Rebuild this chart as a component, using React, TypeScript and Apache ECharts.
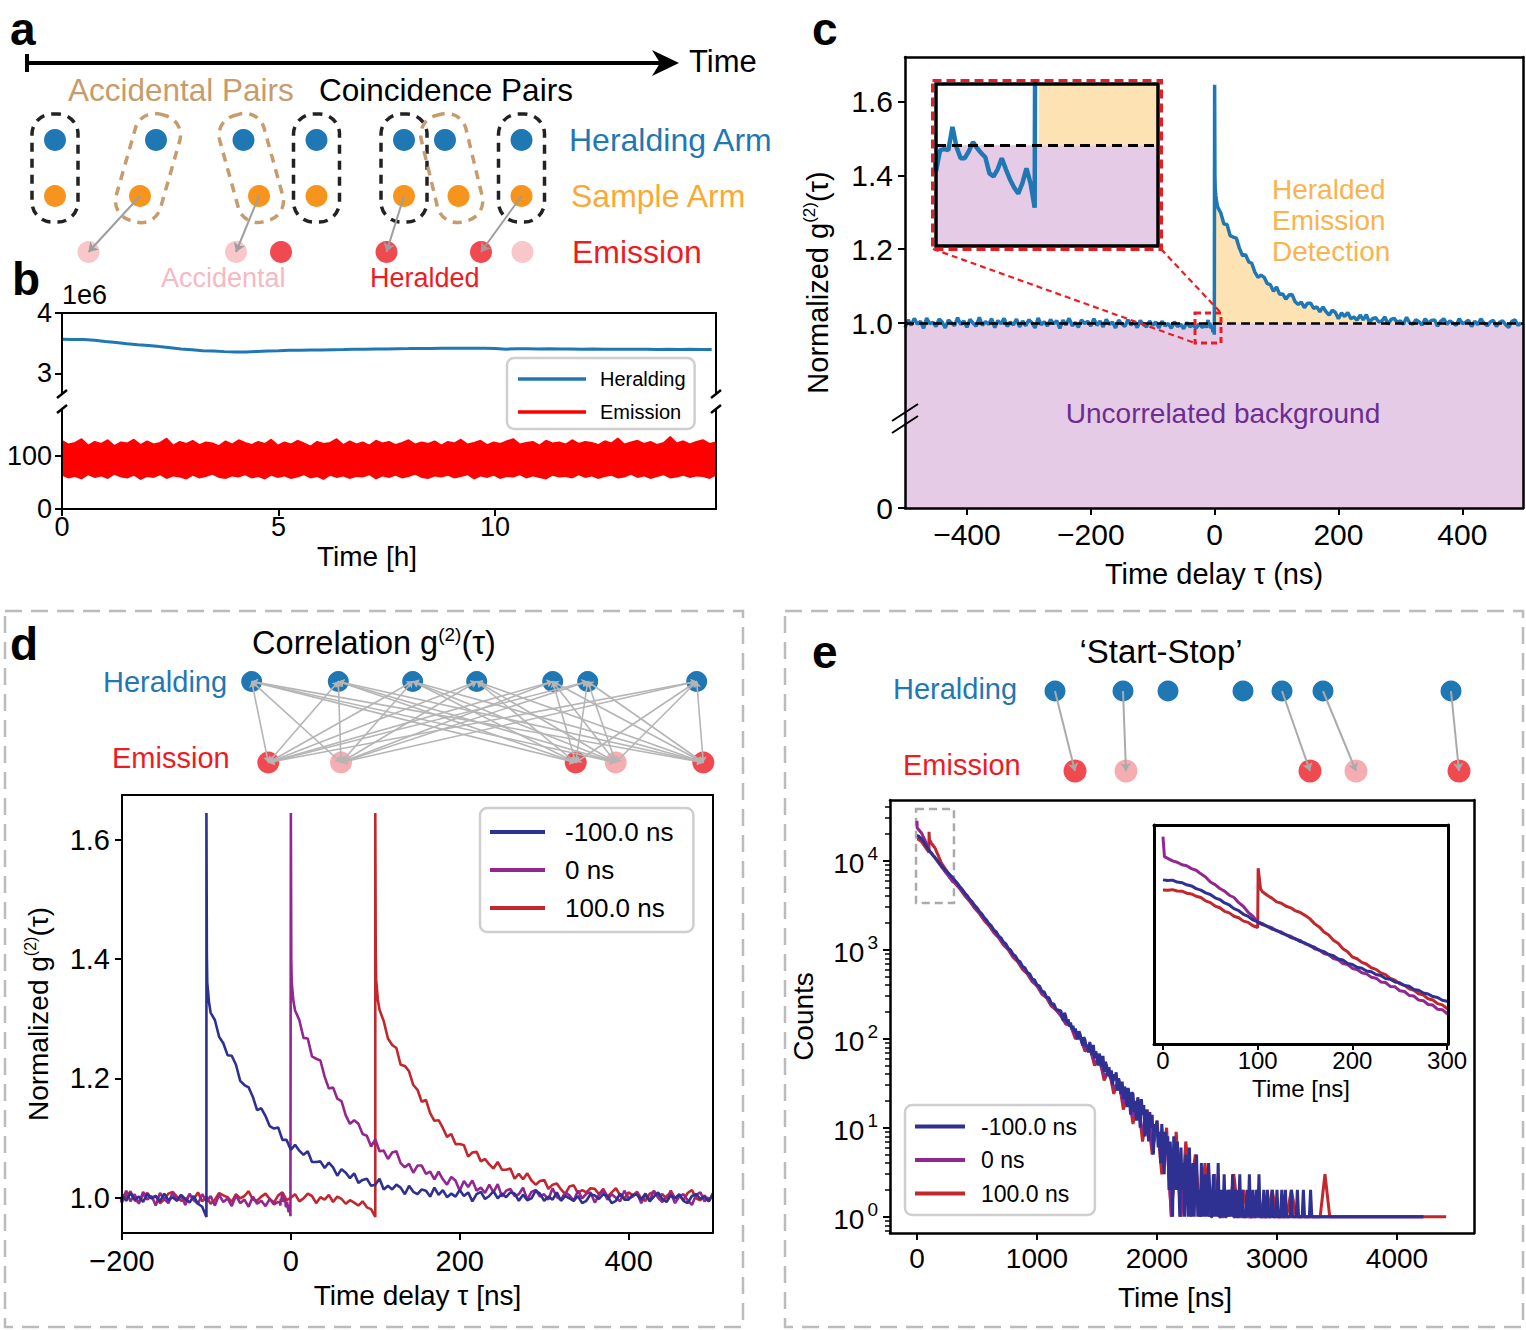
import React, { useEffect, useRef } from "react";
import * as echarts from "echarts";

// ---------------- Panel a: schematic events (arbitrary time units) ----------------
const aHeraldingTimes = [2.8, 12.9, 21.65, 28.95, 37.7, 41.8, 49.45];
const aSampleTimes = [2.8, 11.3, 23.2, 28.95, 37.7, 43.15, 49.45];
const aPairKinds = ["coincidence", "accidental", "accidental", "coincidence", "coincidence", "accidental", "coincidence"];
const aEmissionTimes = [6.15, 20.9, 25.4, 35.95, 45.4, 49.55];
const aEmissionKinds = ["accidental", "accidental", "heralded", "heralded", "heralded", "accidental"];
const aArrows = [[1, 0], [2, 1], [4, 3], [6, 4]]; // sample index -> emission index

// ---------------- Panel b: count rates vs time ----------------
const bTimeTicks = [0, 5, 10];
const bHeraldingTicks = [3, 4];
const bEmissionTicks = [0, 100];
const bHeraldingStep = 0.25; // h
// heralding rate in units of 1e6 counts
const bHeralding = [
  3.566, 3.562, 3.561, 3.549, 3.529, 3.511, 3.492, 3.474, 3.463, 3.444,
  3.426, 3.404, 3.391, 3.377, 3.371, 3.361, 3.353, 3.356, 3.363, 3.373,
  3.377, 3.382, 3.383, 3.389, 3.389, 3.393, 3.395, 3.4, 3.4, 3.405,
  3.406, 3.41, 3.411, 3.414, 3.414, 3.417, 3.417, 3.418, 3.416, 3.415,
  3.412, 3.402, 3.409, 3.41, 3.406, 3.407, 3.403, 3.404, 3.4, 3.403,
  3.399, 3.402, 3.4, 3.399, 3.401, 3.398, 3.399, 3.397, 3.399, 3.396, 3.397,
];
const bEmissionBin = 0.151; // h
const bEmissionHigh = [
  128, 121, 124, 131, 119, 126, 122, 129, 118, 125, 123, 130, 120, 127, 121, 124, 132, 119, 126, 122,
  128, 120, 125, 123, 118, 127, 121, 129, 124, 120, 126, 122, 130, 119, 125, 121, 128, 123, 117, 126,
  122, 124, 131, 120, 127, 121, 125, 119, 128, 123, 126, 120, 124, 129, 121, 125, 122, 127, 119, 126,
  123, 130, 121, 124, 128, 120, 125, 122, 127, 131, 121, 124, 126, 119, 128, 123, 125, 121, 129, 122,
  126, 124, 120, 127, 123, 132, 121, 125, 128, 122, 126, 120, 124, 135, 123, 127, 121, 126, 129, 122, 125,
];
const bEmissionLow = [
  62, 57, 60, 55, 63, 58, 61, 56, 64, 59, 57, 62, 54, 60, 58, 63, 56, 61, 59, 55,
  62, 57, 60, 64, 58, 56, 61, 59, 63, 57, 60, 55, 62, 58, 61, 56, 59, 63, 57, 60,
  54, 62, 58, 61, 56, 60, 59, 63, 55, 61, 58, 62, 57, 60, 64, 58, 56, 61, 59, 62,
  57, 60, 63, 55, 61, 58, 62, 56, 60, 59, 63, 57, 61, 58, 55, 62, 59, 60, 57, 63,
  58, 61, 56, 60, 62, 57, 59, 64, 58, 61, 56, 60, 63, 57, 59, 62, 58, 61, 60, 56, 62,
];

// ---------------- Panel c: normalized g2 (0 ns delay) ----------------
const cTauTicks = [-400, -200, 0, 200, 400];
const cGTicks = [0.5, 1.0, 1.2, 1.4, 1.6]; // 0.5 is the broken-axis floor, labelled "0"
const cBaselineStart = -500;
const cBaselineStep = 5;
const cBaseline = [
  0.988, 1.009, 0.994, 1.013, 0.997, 1.005, 0.986, 1.014, 0.999, 1.002,
  0.991, 1.011, 1.003, 0.987, 1.008, 1.001, 0.993, 1.015, 0.996, 1.006,
  0.989, 1.01, 1.0, 0.992, 1.016, 0.994, 1.004, 0.997, 1.012, 0.988,
  1.007, 0.998, 1.013, 0.991, 1.003, 0.995, 1.011, 0.99, 1.006, 0.993,
  1.009, 1.001, 0.987, 1.014, 0.996, 1.004, 0.992, 1.01, 0.998, 1.007,
  0.986, 1.008, 0.995, 1.013, 0.993, 1.002, 0.989, 1.009, 0.999, 1.005,
  0.992, 1.012, 0.994, 1.006, 0.99, 1.01, 0.997, 1.003, 0.987, 1.008,
  0.998, 0.991, 1.009, 0.995, 1.004, 0.988, 1.007, 0.996, 0.99, 1.006,
  0.994, 1.003, 0.987, 1.005, 0.993, 0.999, 0.986, 1.004, 0.991, 0.997,
  0.985, 1.002, 0.99, 0.995, 0.986, 0.998, 0.989, 0.993,
];
const cNearStart = -13;
const cNearStep = 0.5;
const cNearZero = [
  0.992, 0.987, 0.9975, 0.998, 0.9975, 1.009, 0.999, 0.9935, 0.9935, 0.997, 1.0015, 0.9985, 0.996,
  0.994, 0.986, 0.9845, 0.988, 0.9935, 0.988, 0.983, 0.979, 0.976, 0.981, 0.9885, 0.981, 0.969,
];
const decayHeadOffsets = [0, 0.5, 1, 2, 3, 5];
const decayTailStart = 10;
const decayTailStep = 5;
const cDecayHead = [1.645, 1.4, 1.362, 1.345, 1.33, 1.314];
const cDecayTail = [
  1.298, 1.268, 1.267, 1.237, 1.233, 1.23, 1.203, 1.183, 1.185, 1.166,
  1.162, 1.138, 1.124, 1.13, 1.124, 1.107, 1.104, 1.086, 1.098, 1.078,
  1.079, 1.065, 1.076, 1.078, 1.058, 1.051, 1.057, 1.042, 1.054, 1.054,
  1.04, 1.044, 1.031, 1.044, 1.031, 1.022, 1.035, 1.029, 1.012, 1.028,
  1.018, 1.029, 1.012, 1.017, 1.008, 1.022, 1.009, 1.023, 1.002, 1.012,
  1.015, 1.003, 1.006, 1.017, 0.997, 1.01, 1.013, 1.002, 1.006, 0.997,
  1.016, 1.001, 0.997, 1.009, 1.004, 0.995, 1.012, 0.999, 1.007, 1.009,
  0.992, 1.005, 1.012, 0.997, 1.006, 1.0, 0.994, 1.012, 0.999, 1.002,
  1.008, 0.991, 1.005, 0.996, 1.012, 1.0, 0.993, 1.003, 1.008, 0.991,
  1.002, 1.006, 0.996, 0.988, 1.005, 1.009, 0.994, 1.001,
];
const cExcessUntil = 300; // ns, extent of the shaded heralded-emission area

// ---------------- Panel d: g2 for three delays ----------------
const dTauTicks = [-200, 0, 200, 400];
const dGTicks = [1.0, 1.2, 1.4, 1.6];
const dBlueDelay = -100;
const dBluePre = [1.004, 0.995, 1.008, 0.997, 1.002, 0.993, 1.006, 0.999, 1.003, 0.994, 1.007, 0.996, 1.001, 0.995, 1.005, 0.998, 0.992, 1.003, 0.99, 0.985, 0.968];
const dBlueHead = [1.645, 1.41, 1.36, 1.345, 1.328, 1.31];
const dBlueTail = [
  1.298, 1.27, 1.259, 1.239, 1.238, 1.223, 1.196, 1.189, 1.185, 1.169,
  1.147, 1.15, 1.137, 1.12, 1.116, 1.118, 1.097, 1.097, 1.08, 1.089,
  1.079, 1.072, 1.078, 1.06, 1.06, 1.061, 1.05, 1.059, 1.051, 1.037,
  1.048, 1.042, 1.033, 1.041, 1.025, 1.03, 1.032, 1.02, 1.022, 1.032,
  1.014, 1.02, 1.014, 1.022, 1.017, 1.006, 1.02, 1.01, 1.006, 1.014,
  1.012, 1.002, 1.017, 1.005, 1.013, 1.001, 1.007, 1.002, 1.013, 1.003,
  1.009, 0.994, 1.006, 1.01, 0.998, 1.003, 1.011, 0.999, 1.007, 1.001,
  1.009, 1.007, 0.995, 1.005, 0.996, 0.999, 1.012, 1.007, 0.995, 1.002,
  0.997, 1.009, 0.995, 1.003, 0.999, 0.995, 1.003, 0.991, 0.995, 1.006,
  1.004, 0.998, 1.006, 1.003, 0.991, 0.995, 1.007, 0.997, 0.997, 1.005,
  1.005, 0.997, 1.007, 0.994, 1.002, 1.009, 0.998, 0.993, 1.004, 0.999,
  1.006, 0.995, 0.991, 1.003, 1.006, 0.998, 1.002, 0.994, 1.008,
];
const dRedDelay = 100;
const dRedPre = [
  1.006, 1.001, 1.011, 0.996, 0.993, 1.004, 1.008, 0.999, 1.003, 0.991,
  0.997, 1.007, 1.01, 1.002, 0.995, 0.996, 1.005, 0.998, 1.009, 0.994,
  1.002, 0.99, 0.997, 1.008, 1.004, 1.001, 0.993, 1.006, 0.999, 1.003,
  1.011, 0.997, 0.995, 1.002, 1.007, 0.998, 0.992, 1.004, 1.009, 0.996,
  1.0, 1.006, 0.994, 0.999, 1.007, 1.003, 0.991, 1.001, 0.997, 1.005,
  0.993, 1.002, 0.998, 0.99, 0.996, 0.992, 0.987, 0.994, 0.984, 0.981, 0.968,
];
const dRedHead = [1.645, 1.42, 1.365, 1.35, 1.332, 1.315];
const dRedTail = [
  1.296, 1.267, 1.256, 1.251, 1.223, 1.221, 1.212, 1.189, 1.181, 1.161,
  1.164, 1.142, 1.129, 1.13, 1.117, 1.102, 1.107, 1.09, 1.09, 1.088,
  1.069, 1.076, 1.077, 1.061, 1.065, 1.056, 1.049, 1.06, 1.047, 1.047,
  1.049, 1.032, 1.04, 1.031, 1.041, 1.029, 1.022, 1.028, 1.03, 1.015,
  1.022, 1.024, 1.014, 1.006, 1.019, 1.021, 1.008, 1.013, 1.009, 1.016,
  1.015, 1.006, 1.015, 1.002, 1.009, 1.016, 1.004, 0.999, 1.009, 1.004,
  1.01, 0.999, 0.995, 1.007, 1.01, 1.002, 1.006, 0.998, 1.012, 0.999,
  1.004, 0.996, 1.008, 1.013, 0.999, 0.996, 1.004, 0.994, 1.006,
];
const dHeraldingTimes = [1.17, 9.83, 17.27, 23.67, 31.27, 34.77, 45.67];
const dEmissionTimes = [2.83, 10.1, 33.57, 37.57, 46.33];
const dEmissionKinds = ["heralded", "accidental", "heralded", "accidental", "heralded"];

// ---------------- Panel e: start-stop histograms ----------------
const eTimeTicks = [0, 1000, 2000, 3000, 4000];
const eCountTicks = [1, 10, 100, 1000, 10000];
const eInsetTicks = [0, 100, 200, 300];
const eHeadStep = 5;
const eBlueHead = [
  19050, 18930, 19010, 18690, 18580, 18240, 18050, 17620, 17390, 16960, 16720, 16230, 15980, 15500, 15230, 14740,
  14470, 14010, 13760, 13320, 13090, 12780, 12600, 12290, 12140, 11850, 11680, 11390, 11260, 10980, 10850, 10580,
  10440, 10170, 10040, 9790, 9680, 9400, 9310, 9040, 8950, 8730, 8660, 8450, 8390, 8180, 8110, 7900, 7850, 7650,
  7600, 7420, 7370, 7160, 7110, 6940, 6880, 6720, 6670, 6500, 6450,
];
const eBlueMidStart = 320;
const eBlueMidStep = 20;
const eBlueMid = [
  5930, 5500, 5050, 4720, 4310, 4040, 3690, 3460, 3150, 2950, 2690, 2530, 2300, 2160, 1960, 1850, 1670, 1590, 1430, 1360,
  1220, 1170, 1040, 995, 890, 852, 760, 730, 648, 625, 552, 536, 470, 458, 401, 393, 342, 335, 292, 288, 248, 246, 212, 210,
];
const eBlueTailStart = 1200;
const eBlueTailStep = 10;
const eBlueTail = [
  205, 172, 160, 196, 178, 150, 165, 137, 152, 128, 140, 118, 130, 112, 98, 121, 112, 95, 84, 104,
  97, 80, 86, 70, 92, 78, 66, 85, 60, 72, 64, 50, 68, 58, 48, 64, 42, 55, 50, 38,
  48, 36, 44, 30, 40, 34, 42, 26, 36, 31, 24, 33, 21, 29, 26, 17, 28, 22, 14, 25,
  24, 15, 20, 12, 22, 17, 10, 21, 14, 18, 8, 16, 12, 7, 15, 10, 14, 5, 11, 9,
  12, 6, 9, 4, 11, 7, 3, 9, 5, 8, 2, 7, 4, 1, 8, 5, 2, 7, 3, 1,
  6, 2, 4, 1, 5, 3, 1, 6, 2, 1, 4, 1, 3, 5, 1, 2, 1, 4, 1, 3,
  1, 3, 1, 4, 2, 1, 1, 3, 1, 2, 1, 4, 1, 1, 2, 1, 3, 1, 1, 2,
  1, 2, 1, 3, 1, 1, 2, 1, 1, 3, 1, 2, 1, 1, 1, 2, 1, 3, 1, 1,
  2, 1, 1, 2, 1, 3, 1, 1, 1, 2, 1, 1, 2, 1, 1, 1, 2, 1, 1, 1,
  2, 1, 1, 1, 2, 1, 1, 2, 1, 1, 1, 1, 2, 1, 1, 1, 1, 2, 1, 1,
  1, 1, 2, 1, 1, 1, 1, 1, 2, 1, 1, 1, 1, 1, 1, 1, 1, 1, 1, 1,
  1,
];
const eBlueEnd = [4220, 1];

const ePurpleStartTimes = [0, 1.5];
const ePurpleStart = [28050, 23440];
const ePurpleHeadStart = 5;
const ePurpleHead = [
  23080, 22580, 22300, 21800, 21600, 21060, 20770, 20110, 19560, 18690, 18260, 17640, 17240, 16610, 16280, 15540,
  15020, 14260, 13770, 13060, 12900, 12570, 12440, 12080, 11960, 11640, 11530, 11200, 11090, 10760, 10640, 10300,
  10190, 9860, 9750, 9430, 9340, 9030, 8940, 8640, 8560, 8310, 8230, 7990, 7920, 7660, 7620, 7360, 7330, 7080,
  7030, 6790, 6750, 6510, 6480, 6260, 6230, 6000, 5980, 5770,
];
const eSparseMidStart = 320;
const eSparseStep = 40;
const ePurpleMid = [5620, 4890, 4100, 3580, 2990, 2630, 2180, 1920, 1590, 1400, 1160, 1030, 845, 750, 615, 548, 450, 400, 328, 292, 238, 213];
const eSparseTailStart = 1200;
const ePurpleTail = [182, 148, 140, 104, 103, 76, 78, 55, 57, 38, 42, 28, 32, 19, 24, 13, 18, 9, 13, 6, 10, 4, 8, 1, 6, 1, 4, 1, 3, 1, 2, 1, 2, 1, 1, 2, 1, 1];
const ePurpleEnd = [4220, 1];

const eRedPre = [17420, 17380, 17460, 17250, 17230, 16920, 16800, 16460, 16280, 15790, 15550, 15080, 14850, 14390, 14190, 13770, 13580, 13180, 13030, 12650, 12450];
const eRedSpikeTimes = [100.5, 103];
const eRedSpike = [21130, 17600];
const eRedPostStart = 105;
const eRedPost = [
  17140, 16620, 16190, 15650, 15470, 15050, 14840, 14440, 14240, 13880, 13480, 12890, 12520, 11970, 11640, 11120,
  10810, 10300, 10030, 9570, 9420, 9120, 8970, 8690, 8570, 8300, 8170, 7900, 7780, 7530, 7430, 7200, 7110, 6890,
  6810, 6590, 6520, 6310, 6240, 6040,
];
const eRedMid = [5510, 4770, 4020, 3490, 2920, 2550, 2130, 1860, 1550, 1365, 1130, 1000, 825, 730, 600, 535, 438, 392, 318, 288, 232, 210];
const eRedTail = [
  180, 146, 142, 100, 106, 72, 80, 50, 60, 34, 45, 24, 35, 16, 27, 11, 21, 7, 16, 5,
  12, 3, 10, 1, 9, 1, 7, 2, 5, 1, 4, 1, 3, 1, 2, 1, 3, 1, 2, 1,
  1, 2, 1, 1, 2, 1, 1, 1, 2, 1, 1, 1, 1, 1, 1, 3, 1,
];
const eRedEnd = [4410, 1];
const eZoomBox = [[-8, 38000], [308, 3350]];

const eHeraldingTimes = [1.5, 8.3, 12.8, 20.3, 24.2, 28.3, 41.1];
const eEmissionTimes = [3.5, 8.6, 27.0, 31.6, 41.9];
const eEmissionKinds = ["heralded", "accidental", "heralded", "accidental", "heralded"];
const eStartStopPairs = [[0, 0], [1, 1], [4, 2], [5, 3], [6, 4]];

// ---------------- styles ----------------
const FONT = "'Liberation Sans', Arial, Helvetica, sans-serif";
const BLACK = "#000000";
const HERALD_BLUE = "#1f77b4";
const SAMPLE_ORANGE = "#f7941d";
const SAMPLE_TEXT = "#f9a935";
const EM_RED = "#ed1c24";
const EM_PINK_A = "#f8b8bd";
const EM_PINK = "#f4999d";
const TAN = "#c69c6d";
const PINK_TEXT = "#f7b8c1";
const PURPLE_FILL = "#e6cbe6";
const ORANGE_FILL = "#fde3b4";
const ORANGE_TEXT = "#f9b34f";
const PURPLE_TEXT = "#6c2d91";
const D_BLUE = "#2e3192";
const D_PURPLE = "#93278f";
const D_RED = "#c1272d";
const GRAY_LINE = "#b5b5b5";

// ---------------- helpers ----------------
const seq = (vals: number[], start: number, step: number) => vals.map((v, i) => [start + i * step, v]);
const seqBack = (vals: number[], end: number, step: number) => vals.map((v, i) => [end - (vals.length - 1 - i) * step, v]);
const pairs = (ts: number[], vals: number[]) => vals.map((v, i) => [ts[i], v]);
const decay = (t0: number, head: number[], tail: number[]) => [
  ...head.map((v, i) => [t0 + decayHeadOffsets[i], v]),
  ...tail.map((v, i) => [t0 + decayTailStart + i * decayTailStep, v]),
];
const minus = (v: number) => (v < 0 ? "\u2212" + Math.abs(v) : String(v));

const cTrace = [...seq(cBaseline, cBaselineStart, cBaselineStep), ...seq(cNearZero, cNearStart, cNearStep), ...decay(0, cDecayHead, cDecayTail)];
const cExcess = decay(0, cDecayHead, cDecayTail).filter((p) => p[0] <= cExcessUntil);
const dBlue = [...seqBack(dBluePre, dBlueDelay, 5), ...decay(dBlueDelay, dBlueHead, dBlueTail)];
const dRed = [...seqBack(dRedPre, dRedDelay, 5), ...decay(dRedDelay, dRedHead, dRedTail)];
const eBlue = [...seq(eBlueHead, 0, eHeadStep), ...seq(eBlueMid, eBlueMidStart, eBlueMidStep), ...seq(eBlueTail, eBlueTailStart, eBlueTailStep), eBlueEnd];
const ePurple = [...pairs(ePurpleStartTimes, ePurpleStart), ...seq(ePurpleHead, ePurpleHeadStart, eHeadStep), ...seq(ePurpleMid, eSparseMidStart, eSparseStep), ...seq(ePurpleTail, eSparseTailStart, eSparseStep), ePurpleEnd];
const eRed = [...seq(eRedPre, 0, eHeadStep), ...pairs(eRedSpikeTimes, eRedSpike), ...seq(eRedPost, eRedPostStart, eHeadStep), ...seq(eRedMid, eSparseMidStart, eSparseStep), ...seq(eRedTail, eSparseTailStart, eSparseStep), eRedEnd];
const bHeraldingData = seq(bHeralding, 0, bHeraldingStep);
const nEm = Math.min(bEmissionHigh.length, bEmissionLow.length);
const bEmHighData = seq(bEmissionHigh.slice(0, nEm), 0, bEmissionBin);
const bEmLowData = seq(bEmissionLow.slice(0, nEm), 0, bEmissionBin);

const B_TMAX = 15.1;

const axLine = (w = 2) => ({ show: true, onZero: false, lineStyle: { color: BLACK, width: w } });
const axTicks = (vals: number[], len = 7, w = 2) => ({ show: true, inside: false, length: len, customValues: vals, lineStyle: { color: BLACK, width: w } });
const axLabels = (vals: number[], size: number, margin: number, formatter?: any, rich?: any) => {
  const o: any = { show: true, customValues: vals, fontSize: size, fontFamily: FONT, color: BLACK, margin, formatter: formatter || ((v: number) => String(v)) };
  if (rich) o.rich = rich;
  return o;
};
const frame = (gridIndex: number, position: string, w = 2) => ({
  type: "value", gridIndex, position, min: 0, max: 1, z: 10,
  axisLine: axLine(w), axisTick: { show: false }, axisLabel: { show: false }, splitLine: { show: false },
});
const hidden = (gridIndex: number, min: number, max: number) => ({ type: "value", gridIndex, min, max, show: false, splitLine: { show: false } });
const supRich = (size: number) => ({ sup: { fontSize: size, lineHeight: size + 1, verticalAlign: "top", fontFamily: FONT, color: BLACK } });
const nameStyle = (size: number, extra: any = {}) => ({ fontSize: size, fontFamily: FONT, color: BLACK, lineHeight: size + 4, ...extra });

const T = (text: string, x: number, y: number, size: number, color: string, opts: any = {}) => ({
  type: "text", x, y, z: 100, silent: true,
  style: {
    text, fill: color, fontSize: size, fontFamily: FONT, fontWeight: opts.bold ? "bold" : "normal",
    align: opts.align || "left", textAlign: opts.align || "left", verticalAlign: "middle", textVerticalAlign: "middle",
    lineHeight: opts.rich ? size + 4 : undefined, rich: opts.rich,
  },
});
const L = (x1: number, y1: number, x2: number, y2: number, color: string, w: number, dash?: number[]) => ({
  type: "line", z: 100, silent: true, shape: { x1, y1, x2, y2 },
  style: { stroke: color, lineWidth: w, lineDash: dash, fill: "none" },
});
const R = (x: number, y: number, width: number, height: number, color: string, w: number, dash?: number[], r = 0) => ({
  type: "rect", z: 100, silent: true, shape: { x, y, width, height, r },
  style: { stroke: color, lineWidth: w, lineDash: dash, fill: "none" },
});

function buildOption(): any {
  const ROW_H_A = 2.5, ROW_S_A = 1.5, ROW_E_A = 0.5;
  const ROW_H = 1.5, ROW_E = 0.5;
  const legendBase = (extra: any) => ({
    orient: "vertical", icon: "rect", selectedMode: false, backgroundColor: "rgba(255,255,255,0.85)",
    borderColor: "#cfcfcf", borderWidth: 2.5, borderRadius: 7, ...extra,
  });
  const eRich = {
    b: { fontSize: 28, fontFamily: FONT, color: BLACK, lineHeight: 34, verticalAlign: "bottom" },
    s: { fontSize: 19, fontFamily: FONT, color: BLACK, lineHeight: 20, verticalAlign: "top", padding: [0, 0, 0, 3] },
  };
  const minorLog: number[] = [];
  [0.1, 1, 10, 100, 1000, 10000].forEach((d) => [2, 3, 4, 5, 6, 7, 8, 9].forEach((m) => minorLog.push(m * d)));

  const dAllPairs: any[] = [];
  dHeraldingTimes.forEach((h) => dEmissionTimes.forEach((e) => dAllPairs.push({ coords: [[h, ROW_H], [e, ROW_E]] })));

  return {
    animation: false,
    backgroundColor: "#ffffff",
    textStyle: { fontFamily: FONT },
    grid: [
      { left: 62, top: 313, width: 654, height: 81 }, // 0 b upper
      { left: 62, top: 409, width: 654, height: 100 }, // 1 b lower
      { left: 905, top: 57, width: 618, height: 451 }, // 2 c
      { left: 936, top: 84, width: 222, height: 162 }, // 3 c inset
      { left: 122, top: 795, width: 591, height: 438 }, // 4 d
      { left: 240, top: 641, width: 475, height: 162 }, // 5 d schematic
      { left: 890, top: 800, width: 584, height: 433 }, // 6 e
      { left: 1154, top: 825, width: 294, height: 219 }, // 7 e inset
      { left: 1040, top: 651, width: 435, height: 160 }, // 8 e schematic
      { left: 27, top: 112, width: 651, height: 168 }, // 9 a schematic
    ],
    legend: [
      legendBase({
        left: 507, top: 358, data: ["Heralding", "Emission"], itemWidth: 68, itemHeight: 3.5, itemGap: 13,
        padding: [11, 9, 7, 11], textStyle: { fontSize: 20, fontFamily: FONT, color: BLACK, padding: [0, 0, 0, 9] },
      }),
      legendBase({
        left: 480, top: 808, data: ["-100.0 ns", "0 ns", "100.0 ns"], itemWidth: 55, itemHeight: 4, itemGap: 12,
        padding: [11, 20, 11, 10], textStyle: { fontSize: 26, fontFamily: FONT, color: BLACK, padding: [0, 0, 0, 15] },
      }),
      legendBase({
        left: 905, top: 1105, data: ["-100.0 ns", "0 ns", "100.0 ns"], itemWidth: 50, itemHeight: 4, itemGap: 10.5,
        padding: [10, 18, 10, 10], textStyle: { fontSize: 23, fontFamily: FONT, color: BLACK, padding: [0, 0, 0, 11] },
      }),
    ],
    xAxis: [
      { type: "value", gridIndex: 0, position: "top", min: 0, max: B_TMAX, z: 10, axisLine: axLine(), axisTick: { show: false }, axisLabel: { show: false }, splitLine: { show: false } }, // 0
      {
        type: "value", gridIndex: 1, position: "bottom", min: 0, max: B_TMAX, z: 10, axisLine: axLine(), axisTick: axTicks(bTimeTicks),
        axisLabel: axLabels(bTimeTicks, 27, 4), splitLine: { show: false },
        name: "Time [h]", nameLocation: "middle", nameGap: 22, nameTextStyle: nameStyle(28, { padding: [0, 44, 0, 0] }),
      }, // 1
      {
        type: "value", gridIndex: 2, position: "bottom", min: -500, max: 498, z: 10, axisLine: axLine(2.5), axisTick: axTicks(cTauTicks),
        axisLabel: axLabels(cTauTicks, 30, 11, minus), splitLine: { show: false },
        name: "Time delay \u03c4 (ns)", nameLocation: "middle", nameGap: 49, nameTextStyle: nameStyle(29),
      }, // 2
      frame(2, "top", 2.5), // 3
      hidden(3, -12.5, 14.5), // 4
      {
        type: "value", gridIndex: 4, position: "bottom", min: -200, max: 500, z: 10, axisLine: axLine(), axisTick: axTicks(dTauTicks),
        axisLabel: axLabels(dTauTicks, 29, 13, minus), splitLine: { show: false },
        name: "Time delay \u03c4 [ns]", nameLocation: "middle", nameGap: 46, nameTextStyle: nameStyle(28),
      }, // 5
      frame(4, "top"), // 6
      hidden(5, 0, 47.5), // 7
      {
        type: "value", gridIndex: 6, position: "bottom", min: -225, max: 4642, z: 10, axisLine: axLine(2.5), axisTick: axTicks(eTimeTicks),
        axisLabel: axLabels(eTimeTicks, 28, 11), splitLine: { show: false },
        name: "Time [ns]", nameLocation: "middle", nameGap: 48, nameTextStyle: nameStyle(28, { padding: [0, 14, 0, 0] }),
      }, // 8
      frame(6, "top", 2.5), // 9
      {
        type: "value", gridIndex: 7, position: "bottom", min: -9.5, max: 301, z: 10, axisLine: axLine(3), axisTick: axTicks(eInsetTicks, 6),
        axisLabel: axLabels(eInsetTicks, 24, 4), splitLine: { show: false },
        name: "Time [ns]", nameLocation: "middle", nameGap: 30, nameTextStyle: nameStyle(24),
      }, // 10
      frame(7, "top", 3), // 11
      hidden(8, 0, 43.5), // 12
      hidden(9, 0, 65.1), // 13
    ],
    yAxis: [
      { type: "value", gridIndex: 0, position: "left", min: 2.66, max: 4.0, z: 10, axisLine: axLine(), axisTick: axTicks(bHeraldingTicks), axisLabel: axLabels(bHeraldingTicks, 27, 10), splitLine: { show: false } }, // 0
      frame(0, "right"), // 1
      { type: "value", gridIndex: 1, position: "left", min: 0, max: 187, z: 10, axisLine: axLine(), axisTick: axTicks(bEmissionTicks), axisLabel: axLabels(bEmissionTicks, 27, 10), splitLine: { show: false } }, // 2
      frame(1, "right"), // 3
      {
        type: "value", gridIndex: 2, position: "left", min: 0.5, max: 1.72, z: 10, axisLine: axLine(2.5), axisTick: axTicks(cGTicks),
        axisLabel: axLabels(cGTicks, 30, 12, (v: number) => (v === 0.5 ? "0" : v.toFixed(1))), splitLine: { show: false },
        name: "Normalized g{sup|(2)}(\u03c4)", nameLocation: "middle", nameRotate: 90, nameGap: 71, nameTextStyle: nameStyle(29, { rich: supRich(17) }),
      }, // 4
      frame(2, "right", 2.5), // 5
      hidden(3, 0.95, 1.0303), // 6
      {
        type: "value", gridIndex: 4, position: "left", min: 0.941, max: 1.675, z: 10, axisLine: axLine(), axisTick: axTicks(dGTicks),
        axisLabel: axLabels(dGTicks, 29, 12, (v: number) => v.toFixed(1)), splitLine: { show: false },
        name: "Normalized g{sup|(2)}(\u03c4)", nameLocation: "middle", nameRotate: 90, nameGap: 68, nameTextStyle: nameStyle(28, { rich: supRich(16) }),
      }, // 7
      frame(4, "right"), // 8
      hidden(5, 0, 2), // 9
      {
        type: "log", logBase: 10, gridIndex: 6, position: "left", min: 0.656, max: 48100, z: 10, axisLine: axLine(2.5), axisTick: axTicks(eCountTicks),
        axisLabel: axLabels(eCountTicks, 28, 12, (v: number) => `{b|10}{s|${Math.round(Math.log10(v))}}`, eRich), splitLine: { show: false },
        name: "Counts", nameLocation: "middle", nameRotate: 90, nameGap: 71, nameTextStyle: nameStyle(28),
      }, // 10
      {
        type: "log", logBase: 10, gridIndex: 6, position: "left", min: 0.656, max: 48100, z: 11, axisLine: { show: false, onZero: false },
        axisTick: axTicks(minorLog, 5, 1.5), axisLabel: { show: false }, splitLine: { show: false },
      }, // 11
      frame(6, "right", 2.5), // 12
      { type: "log", logBase: 10, gridIndex: 7, position: "left", min: 4400, max: 31100, z: 10, axisLine: axLine(3), axisTick: { show: false }, axisLabel: { show: false }, splitLine: { show: false } }, // 13
      frame(7, "right", 3), // 14
      hidden(8, 0, 2), // 15
      hidden(9, 0, 3), // 16
    ],
    series: [
      // ---- b ----
      { name: "Heralding", type: "line", xAxisIndex: 0, yAxisIndex: 0, data: bHeraldingData, symbol: "none", color: HERALD_BLUE, lineStyle: { color: HERALD_BLUE, width: 3 }, z: 3 },
      { name: "Emission", type: "line", xAxisIndex: 1, yAxisIndex: 2, data: bEmHighData, symbol: "none", color: "#ff0000", lineStyle: { color: "#ff0000", width: 1.5 }, areaStyle: { color: "#ff0000", opacity: 1, origin: "start" }, z: 2 },
      { name: "Emission floor", type: "line", xAxisIndex: 1, yAxisIndex: 2, data: bEmLowData, symbol: "none", lineStyle: { width: 0, opacity: 0 }, areaStyle: { color: "#ffffff", opacity: 1, origin: "start" }, z: 3, silent: true },
      // ---- c main ----
      { name: "c excess", type: "line", xAxisIndex: 2, yAxisIndex: 4, data: cExcess, symbol: "none", lineStyle: { width: 0, opacity: 0 }, areaStyle: { color: ORANGE_FILL, opacity: 1, origin: 1 }, z: 2, silent: true },
      {
        name: "c g2", type: "line", xAxisIndex: 2, yAxisIndex: 4, data: cTrace, symbol: "none", color: HERALD_BLUE, lineStyle: { color: HERALD_BLUE, width: 3.5 }, z: 3,
        markArea: { silent: true, itemStyle: { color: PURPLE_FILL }, data: [[{ xAxis: -500, yAxis: 0.5 }, { xAxis: 498, yAxis: 1.0 }]] },
        markLine: { silent: true, symbol: ["none", "none"], label: { show: false }, lineStyle: { color: BLACK, width: 2.5, type: [9, 5] }, data: [{ yAxis: 1.0 }] },
      },
      // ---- c inset ----
      { name: "c excess inset", type: "line", xAxisIndex: 4, yAxisIndex: 6, data: cExcess, symbol: "none", lineStyle: { width: 0, opacity: 0 }, areaStyle: { color: ORANGE_FILL, opacity: 1, origin: 1 }, z: 2, silent: true },
      {
        name: "c g2 inset", type: "line", xAxisIndex: 4, yAxisIndex: 6, data: cTrace, symbol: "none", color: HERALD_BLUE, lineStyle: { color: HERALD_BLUE, width: 4.5 }, z: 3,
        markArea: { silent: true, itemStyle: { color: PURPLE_FILL }, data: [[{ xAxis: -12.5, yAxis: 0.95 }, { xAxis: 14.5, yAxis: 1.0 }]] },
        markLine: { silent: true, symbol: ["none", "none"], label: { show: false }, lineStyle: { color: BLACK, width: 3, type: [10, 6] }, data: [{ yAxis: 1.0 }] },
      },
      // ---- d ----
      { name: "100.0 ns", type: "line", xAxisIndex: 5, yAxisIndex: 7, data: dRed, symbol: "none", color: D_RED, lineStyle: { color: D_RED, width: 2.6 }, z: 3 },
      { name: "0 ns", type: "line", xAxisIndex: 5, yAxisIndex: 7, data: cTrace, symbol: "none", color: D_PURPLE, lineStyle: { color: D_PURPLE, width: 2.6 }, z: 3 },
      { name: "-100.0 ns", type: "line", xAxisIndex: 5, yAxisIndex: 7, data: dBlue, symbol: "none", color: D_BLUE, lineStyle: { color: D_BLUE, width: 2.6 }, z: 3 },
      // d schematic
      { type: "lines", coordinateSystem: "cartesian2d", xAxisIndex: 7, yAxisIndex: 9, data: dAllPairs, symbol: ["arrow", "arrow"], symbolSize: 6, lineStyle: { color: GRAY_LINE, width: 1.6, opacity: 1, curveness: 0 }, z: 4, silent: true },
      { type: "scatter", xAxisIndex: 7, yAxisIndex: 9, data: dHeraldingTimes.map((t) => [t, ROW_H]), symbolSize: 21, itemStyle: { color: HERALD_BLUE, opacity: 1 }, z: 3, silent: true },
      { type: "scatter", xAxisIndex: 7, yAxisIndex: 9, data: dEmissionTimes.map((t, i) => ({ value: [t, ROW_E], itemStyle: { color: dEmissionKinds[i] === "heralded" ? EM_RED : EM_PINK } })), symbolSize: 22, z: 3, silent: true },
      // ---- e main ----
      { name: "100.0 ns", type: "line", xAxisIndex: 8, yAxisIndex: 10, data: eRed, symbol: "none", color: D_RED, lineStyle: { color: D_RED, width: 3 }, z: 3 },
      { name: "0 ns", type: "line", xAxisIndex: 8, yAxisIndex: 10, data: ePurple, symbol: "none", color: D_PURPLE, lineStyle: { color: D_PURPLE, width: 3 }, z: 3 },
      {
        name: "-100.0 ns", type: "line", xAxisIndex: 8, yAxisIndex: 10, data: eBlue, symbol: "none", color: D_BLUE, lineStyle: { color: D_BLUE, width: 3 }, z: 3,
        markArea: {
          silent: true, itemStyle: { color: "rgba(0,0,0,0)", borderColor: "#aaaaaa", borderWidth: 2.5, borderType: [8, 5] },
          data: [[{ xAxis: eZoomBox[0][0], yAxis: eZoomBox[0][1] }, { xAxis: eZoomBox[1][0], yAxis: eZoomBox[1][1] }]],
        },
      },
      // e inset
      { name: "100.0 ns", type: "line", xAxisIndex: 10, yAxisIndex: 13, data: eRed, symbol: "none", color: D_RED, lineStyle: { color: D_RED, width: 3 }, z: 3 },
      { name: "0 ns", type: "line", xAxisIndex: 10, yAxisIndex: 13, data: ePurple, symbol: "none", color: D_PURPLE, lineStyle: { color: D_PURPLE, width: 3 }, z: 3 },
      { name: "-100.0 ns", type: "line", xAxisIndex: 10, yAxisIndex: 13, data: eBlue, symbol: "none", color: D_BLUE, lineStyle: { color: D_BLUE, width: 3 }, z: 3 },
      // e schematic
      {
        type: "lines", coordinateSystem: "cartesian2d", xAxisIndex: 12, yAxisIndex: 15,
        data: eStartStopPairs.map(([h, e]) => ({ coords: [[eHeraldingTimes[h], ROW_H], [eEmissionTimes[e], ROW_E]] })),
        symbol: ["none", "arrow"], symbolSize: 8, lineStyle: { color: "#aaaaaa", width: 2, opacity: 1, curveness: 0 }, z: 4, silent: true,
      },
      { type: "scatter", xAxisIndex: 12, yAxisIndex: 15, data: eHeraldingTimes.map((t) => [t, ROW_H]), symbolSize: 21, itemStyle: { color: HERALD_BLUE, opacity: 1 }, z: 3, silent: true },
      { type: "scatter", xAxisIndex: 12, yAxisIndex: 15, data: eEmissionTimes.map((t, i) => ({ value: [t, ROW_E], itemStyle: { color: eEmissionKinds[i] === "heralded" ? EM_RED : EM_PINK } })), symbolSize: 23, z: 3, silent: true },
      // ---- a schematic ----
      {
        type: "custom", xAxisIndex: 13, yAxisIndex: 16, z: 2, silent: true, clip: false,
        data: aPairKinds.map((k, i) => [aHeraldingTimes[i], aSampleTimes[i], k === "accidental" ? 1 : 0]),
        renderItem: (_params: any, api: any) => {
          const p1 = api.coord([api.value(0), ROW_H_A]);
          const p2 = api.coord([api.value(1), ROW_S_A]);
          const dx = p2[0] - p1[0], dy = p2[1] - p1[1];
          const len = Math.sqrt(dx * dx + dy * dy);
          const halfH = len / 2 + 26, halfW = 23;
          return {
            type: "rect", x: (p1[0] + p2[0]) / 2, y: (p1[1] + p2[1]) / 2, rotation: Math.atan2(dx, dy),
            shape: { x: -halfW, y: -halfH, width: 2 * halfW, height: 2 * halfH, r: 20 },
            style: { fill: "none", stroke: api.value(2) ? TAN : "#222222", lineWidth: 3.5, lineDash: [9, 7] },
          };
        },
      },
      {
        type: "lines", coordinateSystem: "cartesian2d", xAxisIndex: 13, yAxisIndex: 16,
        data: aArrows.map(([s, e]) => ({ coords: [[aSampleTimes[s], ROW_S_A], [aEmissionTimes[e], ROW_E_A]] })),
        symbol: ["none", "arrow"], symbolSize: 9, lineStyle: { color: "#9e9e9e", width: 2, opacity: 1, curveness: 0 }, z: 4, silent: true,
      },
      { type: "scatter", xAxisIndex: 13, yAxisIndex: 16, data: aHeraldingTimes.map((t) => [t, ROW_H_A]), symbolSize: 22, itemStyle: { color: HERALD_BLUE, opacity: 1 }, z: 3, silent: true },
      { type: "scatter", xAxisIndex: 13, yAxisIndex: 16, data: aSampleTimes.map((t) => [t, ROW_S_A]), symbolSize: 22, itemStyle: { color: SAMPLE_ORANGE, opacity: 1 }, z: 3, silent: true },
      { type: "scatter", xAxisIndex: 13, yAxisIndex: 16, data: aEmissionTimes.map((t, i) => ({ value: [t, ROW_E_A], itemStyle: { color: aEmissionKinds[i] === "heralded" ? EM_RED : EM_PINK_A } })), symbolSize: 22, z: 3, silent: true },
    ],
    graphic: {
      elements: [
        // panel letters
        T("a", 10, 29, 46, BLACK, { bold: true }),
        T("b", 12, 279, 46, BLACK, { bold: true }),
        T("c", 812, 29, 46, BLACK, { bold: true }),
        T("d", 10, 644, 46, BLACK, { bold: true }),
        T("e", 812, 652, 46, BLACK, { bold: true }),
        // panel a
        L(25, 63, 664, 63, BLACK, 4),
        L(27, 54, 27, 72, BLACK, 4),
        { type: "polygon", z: 100, silent: true, shape: { points: [[652, 50], [679, 63], [652, 76], [660, 63]] }, style: { fill: BLACK } },
        T("Time", 689, 61, 31, BLACK),
        T("Accidental Pairs", 68, 90, 31.5, TAN),
        T("Coincidence Pairs", 319, 90, 31.5, BLACK),
        T("Heralding Arm", 569, 140, 32, HERALD_BLUE),
        T("Sample Arm", 571, 196, 32, SAMPLE_TEXT),
        T("Emission", 572, 252, 32, EM_RED),
        T("Accidental", 161, 278, 27, PINK_TEXT),
        T("Heralded", 370, 278, 27, EM_RED),
        // panel b
        T("1e6", 62, 295, 27, BLACK),
        L(57, 398, 67, 390, BLACK, 2.5),
        L(57, 413, 67, 405, BLACK, 2.5),
        L(711, 398, 721, 390, BLACK, 2.5),
        L(711, 413, 721, 405, BLACK, 2.5),
        // panel c
        T("Heralded", 1272, 189, 28, ORANGE_TEXT),
        T("Emission", 1272, 220, 28, ORANGE_TEXT),
        T("Detection", 1272, 251, 28, ORANGE_TEXT),
        T("Uncorrelated background", 1223, 413, 28, PURPLE_TEXT, { align: "center" }),
        L(892, 421, 918, 404, BLACK, 2),
        L(892, 433, 918, 416, BLACK, 2),
        R(936, 84, 222, 162, BLACK, 3.5),
        R(932.5, 80.5, 229, 169, EM_RED, 3, [9, 5]),
        R(1195, 313, 26, 30, EM_RED, 3, [6, 4]),
        L(933, 249, 1195, 343, EM_RED, 2.2, [6, 4]),
        L(1161, 249, 1221, 313, EM_RED, 2.2, [6, 4]),
        // panel d
        R(5, 611, 738, 716, "#bbbbbb", 2.5, [17, 9]),
        T("Correlation g{sup|(2)}(\u03c4)", 374, 643, 32.5, BLACK, { align: "center", rich: supRich(19) }),
        T("Heralding", 103, 682, 29, HERALD_BLUE),
        T("Emission", 112, 758, 29, EM_RED),
        // panel e
        R(785, 611, 738, 716, "#bbbbbb", 2.5, [17, 9]),
        T("\u2018Start-Stop\u2019", 1161, 651, 33, BLACK, { align: "center" }),
        T("Heralding", 893, 689, 29, HERALD_BLUE),
        T("Emission", 903, 765, 29, EM_RED),
      ],
    },
  };
}

export default function App() {
  const ref = useRef<HTMLDivElement>(null);
  useEffect(() => {
    if (!ref.current) return;
    const chart = echarts.init(ref.current, null, { renderer: "svg" });
    chart.setOption(buildOption());
    return () => chart.dispose();
  }, []);
  return <div ref={ref} style={{ position: "absolute", left: 0, top: 0, width: 1526, height: 1330, background: "#ffffff" }} />;
}
